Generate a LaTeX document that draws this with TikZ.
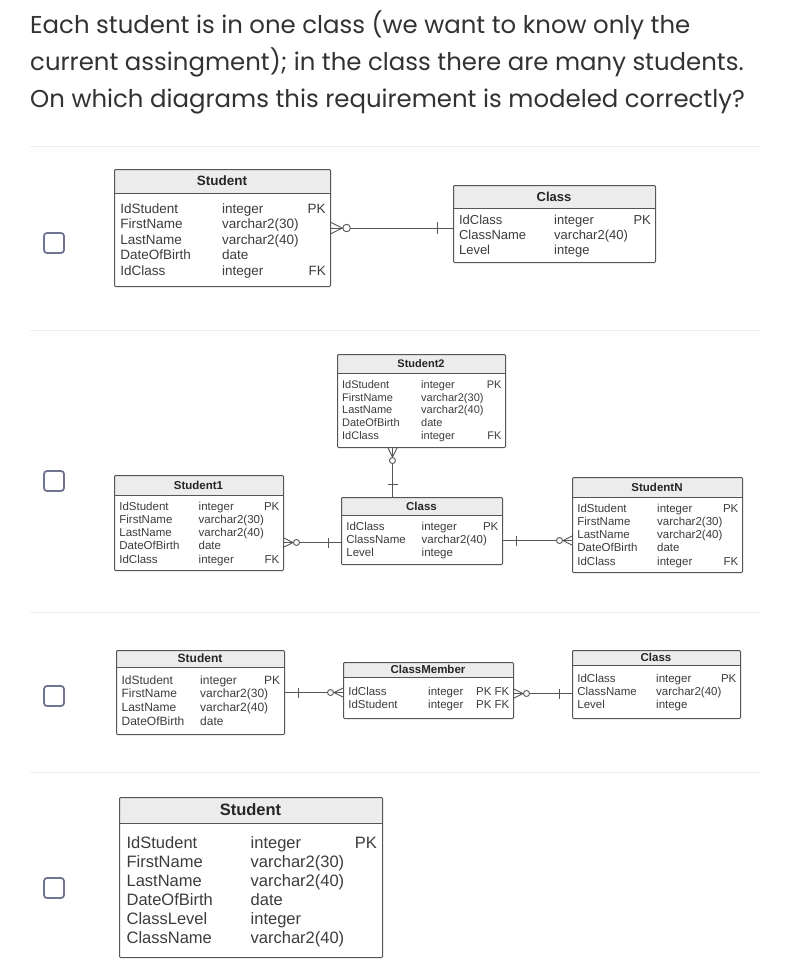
\documentclass[tikz,border=0pt]{standalone}
\usepackage{fontspec}
\setmainfont{Liberation Sans}
\newfontfamily\headfont{Poppins}
\newfontfamily\tblfont{Liberation Sans}
\usepackage{xcolor}
\usetikzlibrary{calc}

\definecolor{headtext}{RGB}{50,50,50}
\definecolor{celltext}{RGB}{60,60,60}
\definecolor{tblgray}{RGB}{85,85,85}
\definecolor{hdrgray}{RGB}{236,236,236}
\definecolor{boxblue}{RGB}{112,116,146}
\definecolor{sepgray}{RGB}{238,238,240}

\tikzset{
  tbl/.style={draw=tblgray, line width=1pt, rounded corners=1pt, inner sep=0pt},
  cell/.style={text=celltext, inner sep=0pt},
  rel/.style={draw=tblgray, line width=0.9pt},
  chk/.style={draw=boxblue, line width=1.8pt, rounded corners=3pt, minimum size=20pt, inner sep=0pt},
  sepline/.style={draw=sepgray, line width=1pt},
  heading/.style={font=\headfont\fontsize{24.4}{28}\selectfont, text=headtext, anchor=base west, inner sep=0pt},
  % zero-or-many end, drawn pointing along +x away from the table
  crowfoot/.pic={
    \draw[rel] (0,-4.5) -- (9,0) -- (0,4.5);
    \draw[rel, fill=white] (12.5,0) circle (3pt);
  },
  % exactly-one end
  onebar/.pic={
    \draw[rel] (13,-5) -- (13,5);
  }
}

% #1 name, #2 x, #3 y (top left), #4 width, #5 height, #6 header height,
% #7 font size, #8 title, #9 rows name/type/key
\newcommand{\ertable}[9]{%
  \def\tfs{#7}%
  \fill[hdrgray] (#2,#3) rectangle ++(#4,#6);
  \draw[tblgray, line width=1pt] (#2,#3+#6) -- ++(#4,0);
  \node[tbl, anchor=north west, minimum width=#4pt, minimum height=#5pt] (#1) at (#2,#3) {};
  \node[cell, anchor=base, text=black!85,
        font=\tblfont\bfseries\fontsize{#7}{#7}\selectfont] (#1-t) at (#2+#4/2, #3+#6/2+0.36*#7) {#8};
  \foreach \r [count=\rc] in {#9} {\xdef\nrows{\rc}}
  \pgfmathsetmacro{\ystart}{#3+#6+(#5-#6)/2-(\nrows-1)*1.15*#7/2+0.36*#7}
  \foreach \cname/\ctype/\ckey [count=\ri from 0] in {#9} {
    \node[cell, anchor=base west, font=\tblfont\fontsize{\tfs}{\tfs}\selectfont]
      (#1-n\ri) at (#2+0.45*\tfs, \ystart+\ri*1.15*\tfs) {\cname};
    \node[cell, anchor=base west, font=\tblfont\fontsize{\tfs}{\tfs}\selectfont]
      (#1-d\ri) at (#2+#4/2, \ystart+\ri*1.15*\tfs) {\ctype};
    \node[cell, anchor=base east, font=\tblfont\fontsize{\tfs}{\tfs}\selectfont]
      (#1-k\ri) at (#2+#4-0.3*\tfs, \ystart+\ri*1.15*\tfs) {\ckey};
  }
}

\begin{document}
\begin{tikzpicture}[x=1pt, y=-1pt]
  \fill[white] (0,0) rectangle (800,970);
  \useasboundingbox (0,0) rectangle (800,970);

  % question
  \node[heading] (q1) at (30,33) {Each student is in one class (we want to know only the};
  \node[heading] (q2) at (30,70) {current assingment); in the class there are many students.};
  \node[heading] (q3) at (30,107) {On which diagrams this requirement is modeled correctly?};

  \foreach \yy in {146,330,612,772}
    \draw[sepline] (30,\yy) -- (760,\yy);
  \foreach \yy [count=\k] in {243,481,696,888}
    \node[chk] (box\k) at (54,\yy) {};

  % answer 1
  \ertable{stuA}{114}{169}{216}{117}{24}{13.5}{Student}{
    IdStudent/integer/PK, FirstName/varchar2(30)/{}, LastName/varchar2(40)/{},
    DateOfBirth/date/{}, IdClass/integer/FK}
  \ertable{clsA}{453}{185}{202}{77}{23}{13}{Class}{
    IdClass/integer/PK, ClassName/varchar2(40)/{}, Level/intege/{}}
  \draw[rel] (stuA.east) -- (stuA.east -| clsA.west);
  \pic[scale=1.25] at (stuA.east) {crowfoot};
  \pic[scale=1.2, rotate=180] at (stuA.east -| clsA.west) {onebar};

  % answer 2
  \ertable{stuT}{337}{354}{168}{93}{19}{11}{Student2}{
    IdStudent/integer/PK, FirstName/varchar2(30)/{}, LastName/varchar2(40)/{},
    DateOfBirth/date/{}, IdClass/integer/FK}
  \ertable{stuO}{114}{475}{169}{95}{20}{11.5}{Student1}{
    IdStudent/integer/PK, FirstName/varchar2(30)/{}, LastName/varchar2(40)/{},
    DateOfBirth/date/{}, IdClass/integer/FK}
  \ertable{clsB}{341}{497}{161}{67}{18}{11.5}{Class}{
    IdClass/integer/PK, ClassName/varchar2(40)/{}, Level/intege/{}}
  \ertable{stuN}{572}{477}{170}{95}{20}{11.5}{StudentN}{
    IdStudent/integer/PK, FirstName/varchar2(30)/{}, LastName/varchar2(40)/{},
    DateOfBirth/date/{}, IdClass/integer/FK}
  \draw[rel] ([xshift=-29pt]stuT.south) -- ([xshift=-29pt]stuT.south |- clsB.north);
  \pic[rotate=-90] at ([xshift=-29pt]stuT.south) {crowfoot};
  \pic[rotate=90] at ([xshift=-29pt]stuT.south |- clsB.north) {onebar};
  \draw[rel] ([yshift=-19.5pt]stuO.east) -- ([yshift=-19.5pt]stuO.east -| clsB.west);
  \pic at ([yshift=-19.5pt]stuO.east) {crowfoot};
  \pic[rotate=180] at ([yshift=-19.5pt]stuO.east -| clsB.west) {onebar};
  \draw[rel] ([yshift=-9.5pt]clsB.east) -- ([yshift=-9.5pt]clsB.east -| stuN.west);
  \pic at ([yshift=-9.5pt]clsB.east) {onebar};
  \pic[rotate=180] at ([yshift=-9.5pt]clsB.east -| stuN.west) {crowfoot};

  % answer 3
  \ertable{stuC}{116}{650}{168}{84}{17}{12}{Student}{
    IdStudent/integer/PK, FirstName/varchar2(30)/{}, LastName/varchar2(40)/{},
    DateOfBirth/date/{}}
  \ertable{member}{343}{662}{170}{56}{15}{11.5}{ClassMember}{
    IdClass/integer/PK FK, IdStudent/integer/PK FK}
  \ertable{clsC}{572}{650}{168}{68}{15}{11.5}{Class}{
    IdClass/integer/PK, ClassName/varchar2(40)/{}, Level/intege/{}}
  \draw[rel] (stuC.east) -- (stuC.east -| member.west);
  \pic at (stuC.east) {onebar};
  \pic[rotate=180] at (stuC.east -| member.west) {crowfoot};
  \draw[rel] ([yshift=-3pt]member.east) -- ([yshift=-3pt]member.east -| clsC.west);
  \pic at ([yshift=-3pt]member.east) {crowfoot};
  \pic[rotate=180] at ([yshift=-3pt]member.east -| clsC.west) {onebar};

  % answer 4
  \ertable{stuD}{119}{797}{263}{160}{26}{16.5}{Student}{
    IdStudent/integer/PK, FirstName/varchar2(30)/{}, LastName/varchar2(40)/{},
    DateOfBirth/date/{}, ClassLevel/integer/{}, ClassName/varchar2(40)/{}}
\end{tikzpicture}
\end{document}
